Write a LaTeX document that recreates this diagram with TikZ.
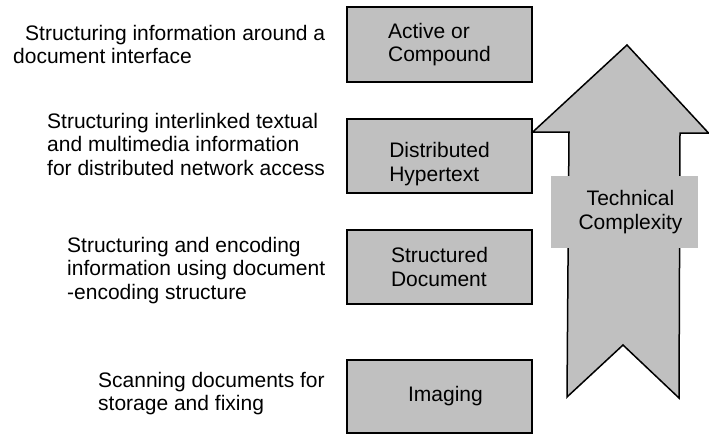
\documentclass[tikz,border=0pt]{standalone}
\usepackage{fontspec}
\setmainfont{Liberation Sans}
\usetikzlibrary{positioning}
\definecolor{panelgray}{HTML}{C0C0C0}

\begin{document}
\begin{tikzpicture}[
  x=1pt, y=-1pt,
  level/.style={draw, line width=1.5pt, fill=panelgray, minimum width=185pt,
                minimum height=74pt, align=left, inner sep=0pt,
                font=\fontsize{21}{23.5}\selectfont},
  desc/.style={anchor=north west, align=left, inner sep=0pt,
               font=\fontsize{21}{23.5}\selectfont},
  tag/.style={fill=panelgray, minimum width=147pt, minimum height=72pt,
              align=center, inner sep=0pt, font=\fontsize{21}{23.5}\selectfont}
]
\useasboundingbox (0,0) rectangle (709,434);

% levels
\node[level, minimum height=75pt] (active) at (439.5,44.5) {Active or\\Compound};
\node[level] (hyper) at (439.5,156) {\rule{0pt}{31pt}Distributed\\Hypertext};
\node[level] (struct) at (439.5,267) {Structured\\Document};
\node[level, minimum height=73pt] (imaging) at (439.5,396.5) {\hspace*{12pt}Imaging};

% descriptions
\node[desc] (dactive) at (13,25) {\hspace*{12pt}Structuring information around a\\document interface};
\node[desc] (dhyper) at (47,113) {Structuring interlinked textual\\and multimedia information\\for distributed network access};
\node[desc] (dstruct) at (67,237) {Structuring and encoding\\information using document\\-encoding structure};
\node[desc] (dimaging) at (98,372) {Scanning documents for\\storage and fixing};

% complexity arrow
\draw[line width=1.5pt, fill=panelgray, line join=miter]
  (627,45) -- (708.5,133) -- (680,133) -- (679,398) -- (623,345)
  -- (567,397) -- (569,132) -- (hyper.east |- 0,132) -- cycle;
\node[tag] (complexity) at (624.5,212) {\hspace*{12pt}Technical\\\hspace*{12pt}Complexity};

\end{tikzpicture}
\end{document}
